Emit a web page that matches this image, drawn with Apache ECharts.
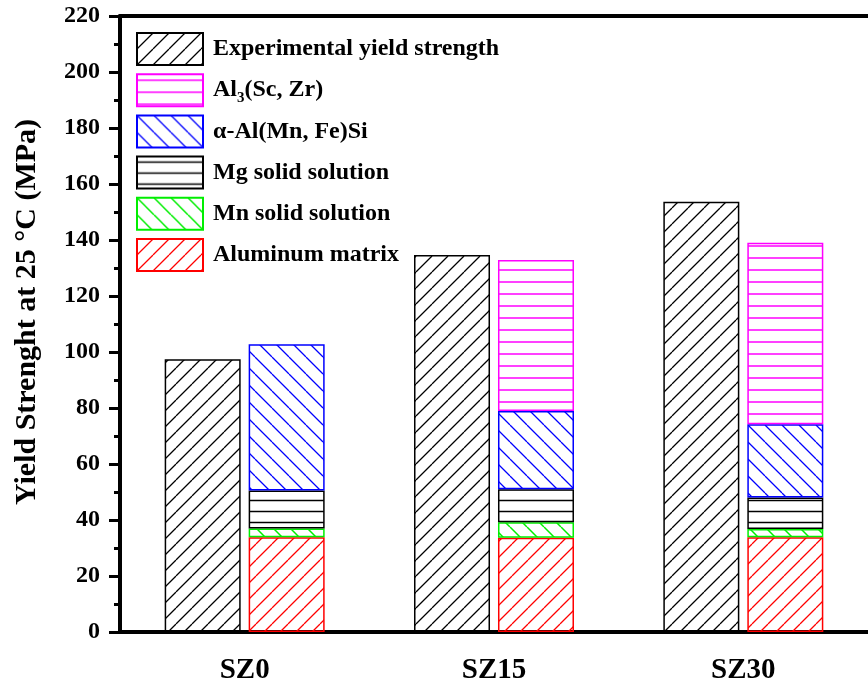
<!DOCTYPE html>
<html>
<head>
<meta charset="utf-8">
<script src="https://cdn.jsdelivr.net/npm/echarts@6/dist/echarts.min.js"></script>
<style>
html,body{margin:0;padding:0;background:#fff;}
#chart{width:868px;height:686px;}
</style>
</head>
<body>
<div id="chart"></div>
<script>
// ---- data ----
const categories = ['SZ0', 'SZ15', 'SZ30'];
const experimental = [97.4, 134.6, 153.7];
const aluminumMatrix = [33.8, 33.7, 33.8];
const mnSolid = [3.2, 5.5, 3.0];
const mgSolid = [13.5, 11.8, 11.2];
const alphaAl = [52.3, 27.9, 26.2];
const al3ScZr = [null, 54.0, 64.8];
const seriesNames = ['Experimental yield strength', 'Al3(Sc, Zr)', 'α-Al(Mn, Fe)Si', 'Mg solid solution', 'Mn solid solution', 'Aluminum matrix'];

const FONT = '"Liberation Serif", "Times New Roman", serif';

function hatch(color, type, size, lw) {
  const c = document.createElement('canvas');
  c.width = size; c.height = size;
  const ctx = c.getContext('2d');
  ctx.strokeStyle = color; ctx.lineWidth = lw;
  ctx.beginPath();
  if (type === '/') {
    for (let k = -1; k <= 1; k++) { ctx.moveTo(k * size, size); ctx.lineTo(k * size + size, 0); }
  } else if (type === '\\') {
    for (let k = -1; k <= 1; k++) { ctx.moveTo(k * size, 0); ctx.lineTo(k * size + size, size); }
  } else {
    ctx.moveTo(0, size / 2); ctx.lineTo(size, size / 2);
  }
  ctx.stroke();
  return { image: c, repeat: 'repeat' };
}

const styles = {
  exp:   { color: hatch('#000', '/', 16, 1.3), borderColor: '#000', borderWidth: 1.5 },
  al3:   { color: hatch('#ff00ff', '-', 12, 1.5), borderColor: '#ff00ff', borderWidth: 1.5 },
  alpha: { color: hatch('#0000ff', '\\', 17, 1.3), borderColor: '#0000ff', borderWidth: 1.5 },
  mg:    { color: hatch('#000', '-', 11, 1.5), borderColor: '#000', borderWidth: 1.5 },
  mn:    { color: hatch('#00ee00', '\\', 17, 1.5), borderColor: '#00ee00', borderWidth: 1.5 },
  al:    { color: hatch('#ff0000', '/', 16, 1.3), borderColor: '#ff0000', borderWidth: 1.5 }
};

const BW = 76;
function bar(name, data, stack, style) {
  return { name: name, type: 'bar', stack: stack, data: data, barWidth: BW, barGap: '10.5%',
    itemStyle: style, emphasis: { disabled: true }, animation: false };
}

const chart = echarts.init(document.getElementById('chart'), null, { renderer: 'canvas' });
chart.setOption({
  animation: false,
  backgroundColor: '#fff',
  grid: { left: 120, top: 16, bottom: 54, right: -6.5, containLabel: false },
  legend: {
    orient: 'vertical', left: 136, top: 32, padding: 0, itemWidth: 66, itemHeight: 32, itemGap: 7.2,
    icon: 'rect', selectedMode: false,
    data: seriesNames,
    formatter: function (n) {
      if (n === 'Al3(Sc, Zr)') return '{b|Al}{s|3}{b|(Sc, Zr)}';
      return '{b|' + n + '}';
    },
    textStyle: {
      fontFamily: FONT, fontWeight: 'bold', fontSize: 24, color: '#000', padding: [0, 0, 0, 5],
      rich: {
        b: { fontFamily: FONT, fontWeight: 'bold', fontSize: 24, color: '#000' },
        s: { fontFamily: FONT, fontWeight: 'bold', fontSize: 15, color: '#000', padding: [16, 0, 0, 0] }
      }
    }
  },
  xAxis: [{
    type: 'category', data: categories, position: 'bottom',
    axisLine: { lineStyle: { color: '#000', width: 4 } },
    axisTick: { show: false },
    axisLabel: { margin: 24, fontFamily: FONT, fontWeight: 'bold', fontSize: 29, color: '#000' },
    splitLine: { show: false }
  }, {
    type: 'category', data: categories, position: 'top',
    axisLine: { lineStyle: { color: '#000', width: 4 } },
    axisTick: { show: false }, axisLabel: { show: false }, splitLine: { show: false }
  }],
  yAxis: {
    type: 'value', min: 0, max: 220, interval: 20,
    name: 'Yield Strenght at 25 °C (MPa)', nameLocation: 'middle', nameGap: 78,
    nameTextStyle: { fontFamily: FONT, fontWeight: 'bold', fontSize: 30, color: '#000', padding: [0, 0, 0, 24] },
    axisLine: { show: true, lineStyle: { color: '#000', width: 4 } },
    axisTick: { show: true, inside: false, length: 11, lineStyle: { color: '#000', width: 3 } },
    minorTick: { show: true, splitNumber: 2, length: 6, lineStyle: { color: '#000', width: 3 } },
    axisLabel: { margin: 20, fontFamily: FONT, fontWeight: 'bold', fontSize: 24, color: '#000' },
    splitLine: { show: false }
  },
  series: [
    bar(seriesNames[0], experimental, 'exp', styles.exp),
    bar(seriesNames[5], aluminumMatrix, 'calc', styles.al),
    bar(seriesNames[4], mnSolid, 'calc', styles.mn),
    bar(seriesNames[3], mgSolid, 'calc', styles.mg),
    bar(seriesNames[2], alphaAl, 'calc', styles.alpha),
    bar(seriesNames[1], al3ScZr, 'calc', styles.al3)
  ]
});
</script>
</body>
</html>
